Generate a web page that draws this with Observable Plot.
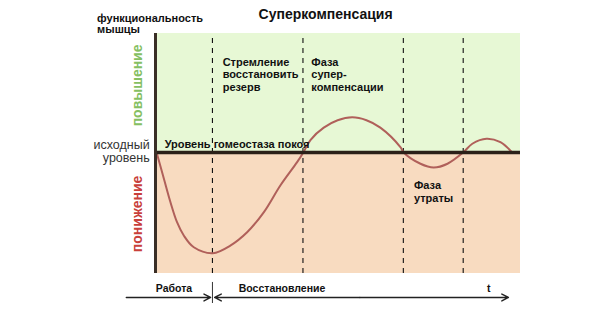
<!DOCTYPE html>
<html>
<head>
<meta charset="utf-8">
<script src="https://cdn.jsdelivr.net/npm/d3@7"></script>
<script src="https://cdn.jsdelivr.net/npm/@observablehq/plot@0.6"></script>
<style>
  html, body { margin: 0; padding: 0; background: #fff; }
  #chart svg { display: block; }
</style>
</head>
<body>
<div id="chart"></div>
<script>
// ---- data ----
const title = "Суперкомпенсация";
// curve: time (0..100) vs functionality relative to baseline (0)
const curveT = [0.3, 2.3, 4.1, 5.9, 7.75, 10.5, 15.7, 20.5, 25.1, 29.7, 34.2, 38.8, 40.5,
                42.5, 46.1, 49.9, 53.9, 57.8, 61.6, 67.1, 68.0, 72.6, 76.2, 80.0, 84.3, 86.8, 90.7, 94.5, 97.7];
const curveV = [0, -21.7, -41.1, -57.6, -68.6, -78.3, -83.2, -76.9, -65.9, -49.3, -27.3, -8.0, 0,
                10.5, 20.5, 26.6, 29.0, 26.6, 20.5, 4.4, 0, -9.3, -12.4, -9.3, 0, 7.2, 11.3, 8.5, 0];
const phaseBounds = [15.6, 40.4, 67.9, 84.3];
const bands = [
  {lo: 0, hi: 98.3, fill: "#e7f8d5"},
  {lo: -100, hi: 0, fill: "#f8dbc0"}
];
const phaseLabels = [
  {t: 18.4, v: 64.5, text: "Стремление\nвосстановить\nрезерв"},
  {t: 42.7, v: 64.5, text: "Фаза\nсупер-\nкомпенсации"},
  {t: 70.8, v: -32.2, text: "Фаза\nутраты"}
];
const baselineLabel = {t: 2.5, v: 7.0, text: "Уровень гомеостаза покоя"};
const yLabels = [
  {t: -16.0, v: 105.8, text: "функциональность\nмышцы", anchor: "start", weight: "bold", rotate: 0, fill: "#111", size: 11},
  {t: -1.6, v: 0.6, text: "исходный\nуровень", anchor: "end", weight: "normal", rotate: 0, fill: "#333", size: 12.5},
  {t: -4.9, v: 55.4, text: "повышение", anchor: "middle", weight: "bold", rotate: -90, fill: "#86bf62", size: 14},
  {t: -4.9, v: -50.8, text: "понижение", anchor: "middle", weight: "bold", rotate: -90, fill: "#c8403a", size: 14}
];
const timelineLabels = [
  {t: 0.1, text: "Работа"},
  {t: 22.8, text: "Восстановление"},
  {t: 90.8, text: "t"}
];
// timeline arrows: [from, to]
const timelineArrows = [
  {from: -8.0, to: 15.1},
  {from: 56, to: 16.2},
  {from: 56, to: 96.7}
];
const timelineY = -119.8;
const timelineTextY = -112.6;
const splitTick = {t: 15.6, v1: -107.4, v2: -124.8};
const titlePos = {t: 46.6, v: 114.0};

const curve = curveT.map((t, i) => ({t, v: curveV[i]}));
const font = "'Liberation Sans', Arial, sans-serif";

const chart = Plot.plot({
  width: 600,
  height: 312,
  marginLeft: 155,
  marginRight: 80,
  marginTop: 33,
  marginBottom: 39,
  style: {fontFamily: font, background: "#fff"},
  x: {domain: [0, 100], axis: null},
  y: {domain: [-100, 98.3], axis: null},
  marks: [
    Plot.rect(bands, {x1: 0, x2: 100, y1: "lo", y2: "hi", fill: "fill"}),
    Plot.ruleX(phaseBounds, {y1: -100, y2: 98.3, stroke: "#111", strokeWidth: 1.1, strokeDasharray: "5,5"}),
    Plot.line(curve, {x: "t", y: "v", stroke: "#b0605a", strokeWidth: 2, curve: "catmull-rom"}),
    Plot.ruleY([0], {x1: 0, x2: 100, stroke: "#2b2018", strokeWidth: 3.5}),
    Plot.ruleX([0], {y1: -100, y2: 98.3, stroke: "#3a2e26", strokeWidth: 3}),
    Plot.text(phaseLabels, {x: "t", y: "v", text: "text", textAnchor: "start", fontSize: 11, fontWeight: "bold", lineHeight: 1.14, fill: "#111"}),
    Plot.text([baselineLabel], {x: "t", y: "v", text: "text", textAnchor: "start", fontSize: 11, fontWeight: "bold", fill: "#111"}),
    ...yLabels.map(d => Plot.text([d], {x: "t", y: "v", text: "text", textAnchor: d.anchor, fontWeight: d.weight, rotate: d.rotate, fill: d.fill, fontSize: d.size, lineHeight: 1.0})),
    Plot.text([title], {x: titlePos.t, y: titlePos.v, text: d => d, fontSize: 14, fontWeight: "bold", fill: "#111"}),
    Plot.text(timelineLabels, {x: "t", y: timelineTextY, text: "text", textAnchor: "start", fontSize: 10.5, fontWeight: "bold", fill: "#111"}),
    Plot.arrow(timelineArrows, {x1: "from", x2: "to", y1: timelineY, y2: timelineY, stroke: "#222", strokeWidth: 1.4, headLength: 8, headAngle: 55}),
    Plot.ruleX([splitTick], {x: "t", y1: "v1", y2: "v2", stroke: "#333", strokeWidth: 1})
  ]
});
document.getElementById("chart").appendChild(chart);
</script>
</body>
</html>
